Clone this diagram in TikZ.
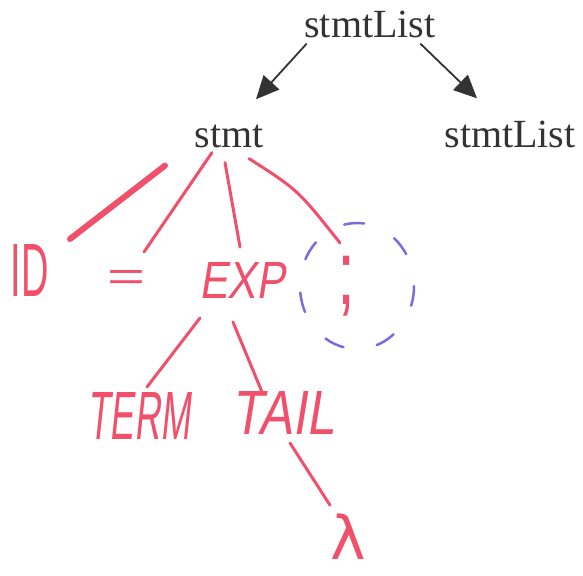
\documentclass[tikz,border=0pt]{standalone}
\usepackage{fontspec}
\usepackage{graphicx}
\setmainfont{Liberation Serif}
\newfontfamily\handfont{Liberation Sans}
\newfontfamily\handslant{Liberation Sans}[FakeSlant=0.2]
\newfontfamily\lamfont{DejaVu Sans}
\usetikzlibrary{arrows.meta}
\definecolor{ink}{HTML}{333333}
\definecolor{pen}{HTML}{F0506A}
\definecolor{bluepen}{HTML}{7A6CE0}
\newcommand\hwbox[3]{\resizebox*{#1}{#2}{#3}}
\begin{document}
\begin{tikzpicture}[x=1pt,y=-1pt,
  lbl/.style={font=\fontsize{40}{44}\selectfont, text=ink, inner sep=0pt, anchor=base},
  hand/.style={text=pen, inner sep=0pt},
  arr/.style={draw=ink, line width=1.8pt, -{Triangle[length=23pt,width=21pt]}},
  pline/.style={draw=pen, line width=3pt, line cap=round},
  dashring/.style={draw=bluepen, line width=2.5pt, line cap=round, dash pattern=on 20pt off 34pt}]
\useasboundingbox (0,0) rectangle (583,575);
% printed nodes
\node[lbl] (top) at (370,38) {stmtList};
\node[lbl] (stmt) at (229,147) {stmt};
\node[lbl] (right) at (510,147) {stmtList};
% handwritten nodes
\node[hand] (id) at (30,270) {\hwbox{38pt}{52pt}{\handfont ID}};
\node[hand] (eq) at (126,280) {\hwbox{38pt}{20pt}{\handfont =}};
\node[hand] (exp) at (242,280) {\hwbox{85pt}{36pt}{\handslant EXP}};
\node[hand] (semi) at (346,286) {\hwbox{18pt}{60pt}{\handfont ;}};
\node[hand] (term) at (139,416) {\hwbox{102pt}{47pt}{\handslant TERM}};
\node[hand] (tail) at (283,413) {\hwbox{103pt}{43pt}{\handslant TAIL}};
\node[hand, font=\lamfont\fontsize{60}{62}\selectfont, anchor=base] (lam) at (348,559) {λ};
% dashed ring around the semicolon
\draw[dashring] ([shift={(11,0)}]semi.center) ellipse [x radius=57, y radius=63];
% printed arrows
\draw[arr] ([shift={(2.5,5)}]top.south west) -- ([shift={(27,-25)}]stmt.north);
\draw[arr] ([shift={(-15.5,5)}]top.south east) -- ([shift={(-33,-22)}]right.north);
% handwritten branches
\draw[pline, line width=6pt] ([shift={(-64,18)}]stmt.south) -- ([shift={(40,-31)}]id.center);
\draw[pline] ([shift={(-17,5)}]stmt.south) -- ([shift={(18,-28)}]eq.center);
\draw[pline] ([shift={(-4,15)}]stmt.south) -- ([shift={(-2,-33)}]exp.center);
\draw[pline] ([shift={(20,11)}]stmt.south) .. controls (298,190) .. ([shift={(-6,-43)}]semi.center);
\draw[pline] ([shift={(-42,38)}]exp.center) -- ([shift={(8,-29)}]term.center);
\draw[pline] ([shift={(-9,42)}]exp.center) -- ([shift={(-21,-21)}]tail.center);
\draw[pline] ([shift={(7,30)}]tail.center) -- ([shift={(-18,-8)}]lam.north);
\end{tikzpicture}
\end{document}
